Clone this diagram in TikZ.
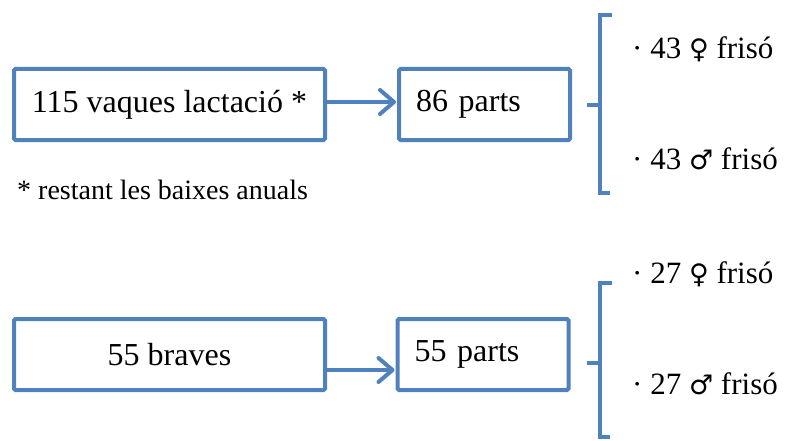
\documentclass[tikz,border=0pt]{standalone}
\usepackage{fontspec}
\setmainfont{Liberation Serif}
\newfontfamily\symfont{DejaVu Sans}
\usetikzlibrary{arrows.meta}
\definecolor{boxblue}{HTML}{4F81BD}
\newcommand{\fem}{{\symfont\fontsize{27}{27}\selectfont ♀}}
\newcommand{\masc}{{\symfont\fontsize{27}{27}\selectfont ♂}}
\begin{document}
\begin{tikzpicture}[x=1pt,y=-1pt,
  flowbox/.style={draw=boxblue, line width=4pt, rounded corners=1.5pt, fill=white,
    minimum height=71pt, inner sep=0pt, font=\fontsize{32}{34}\selectfont},
  partbox/.style={flowbox, minimum width=171pt, text width=137pt, inner xsep=17pt, align=left},
  flowarrow/.style={draw=boxblue, line width=4pt, line cap=round,
    -{Straight Barb[length=14pt,width=24pt,line cap=round,line join=round]}},
  brace/.style={draw=boxblue, line width=4pt, line join=miter},
  cattle/.style={anchor=west, inner sep=0pt, font=\fontsize{31}{33}\selectfont},
  note/.style={anchor=west, inner sep=0pt, font=\fontsize{28}{30}\selectfont}]
\useasboundingbox (0,0) rectangle (786,441);
\fill[white] (0,0) rectangle (786,441);

% first row: lactating cows
\node[flowbox, minimum width=311pt] (cows) at (169.5,104.5) {115 vaques lactació *};
\node[partbox] (parts1) at (484.5,104.5) {86 parts};
\draw[flowarrow] ([yshift=2.5pt]cows.east) -- ([yshift=2.5pt,xshift=-1pt]parts1.west);
\node[note] (foot) at (17,190) {* restant les baixes anuals};

% second row: heifers
\node[flowbox, minimum width=311pt] (braves) at (169.5,354.5) {55 braves};
\node[partbox] (parts2) at (483,354.5) {55 parts};
\draw[flowarrow] ([yshift=-15.5pt]braves.east) -- ([yshift=-15.5pt,xshift=-1pt]parts2.west);

% brackets
\coordinate (b1top) at (600,15);
\coordinate (b1bot) at (600,193);
\coordinate (b1mid) at (600,105);
\draw[brace] ([xshift=12pt]b1top) -- (b1top) -- (b1bot) -- ([xshift=10pt]b1bot);
\draw[brace] (b1mid) -- ([xshift=-13pt]b1mid);

\coordinate (b2top) at (600,283);
\coordinate (b2bot) at (600,437);
\coordinate (b2mid) at (600,363);
\draw[brace] ([xshift=12pt]b2top) -- (b2top) -- (b2bot) -- ([xshift=10pt]b2bot);
\draw[brace] (b2mid) -- ([xshift=-13pt]b2mid);

% offspring split
\node[cattle] (f1) at (632,49) {· 43 \fem\ frisó};
\node[cattle] (m1) at (632,159) {· 43 \masc\ frisó};
\node[cattle] (f2) at (632,274) {· 27 \fem\ frisó};
\node[cattle] (m2) at (632,384) {· 27 \masc\ frisó};
\end{tikzpicture}
\end{document}
